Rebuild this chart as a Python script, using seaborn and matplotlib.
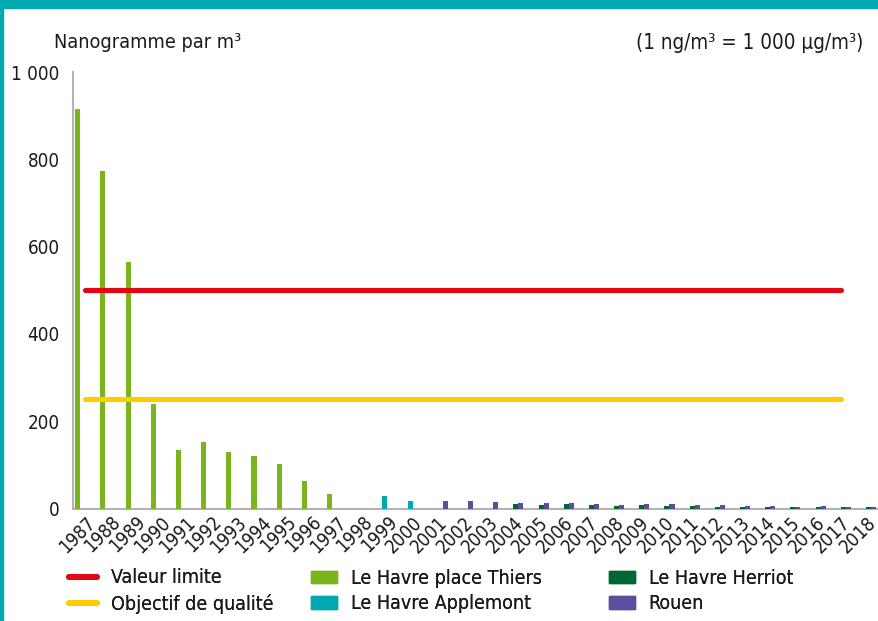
import numpy as np
import pandas as pd
import matplotlib
matplotlib.use("Agg")
import matplotlib.pyplot as plt
import seaborn as sns
from matplotlib.lines import Line2D
from matplotlib.patches import Patch, Rectangle

sns.set_style("white")
plt.rcParams['font.family'] = ['DejaVu Sans']
plt.rcParams['font.stretch'] = 'condensed'

years = [str(y) for y in range(1987, 2019)]
nan = np.nan
thiers = [915, 773, 565, 240, 133, 153, 130, 121, 101, 64, 34] + [nan] * 21
applemont = [nan] * 12 + [28, 17] + [nan] * 18
herriot = [nan] * 17 + [10, 7, 10, 7, 6, 7, 6, 6, 3, 3, 3, 3, 3, 3, 3]
rouen = [nan] * 14 + [17, 17, 14, 12, 12, 12, 10, 7, 10, 10, 7, 7, 5, 5, 3, 5, 3, 3]
valeur_limite = [500] * 31      # 1987-2017
objectif_qualite = [250] * 31   # 1987-2017

series_names = ["Le Havre place Thiers", "Le Havre Applemont", "Le Havre Herriot", "Rouen"]
series_vals = [thiers, applemont, herriot, rouen]
colors = {"Le Havre place Thiers": "#7AB51D", "Le Havre Applemont": "#00A9B1",
          "Le Havre Herriot": "#006633", "Rouen": "#5B4E9C"}
red, yellow = "#E30613", "#FFCC00"

rows = []
for name, vals in zip(series_names, series_vals):
    for y, v in zip(years, vals):
        rows.append({"year": y, "series": name, "value": v})
df = pd.DataFrame(rows)

fig = plt.figure(figsize=(8.79, 6.21), dpi=100)
ax = fig.add_axes([72.7 / 879, 1 - 508.5 / 621, (878.5 - 72.7) / 879, (508.5 - 72) / 621])

sns.barplot(data=df, x="year", y="value", hue="series", order=years,
            hue_order=series_names, palette=colors, width=0.8, dodge=True,
            errorbar=None, ax=ax, legend=False, saturation=1, linewidth=0, zorder=3)

sns.lineplot(x=np.arange(len(valeur_limite)), y=valeur_limite, color=red,
             linewidth=3.7, ax=ax, solid_capstyle="round", zorder=4)
sns.lineplot(x=np.arange(len(objectif_qualite)), y=objectif_qualite, color=yellow,
             linewidth=3.7, ax=ax, solid_capstyle="round", zorder=4)

ax.set_xlim(-0.5, len(years) - 0.5)
ax.set_ylim(0, 1000)
ax.set_yticks([0, 200, 400, 600, 800, 1000])
ax.set_yticklabels(["0", "200", "400", "600", "800", "1 000"])
ax.set_xlabel("")
ax.set_ylabel("")

gray = "#B3B3B3"
for s in ["top", "right"]:
    ax.spines[s].set_visible(False)
for s in ["left", "bottom"]:
    ax.spines[s].set_color(gray)
    ax.spines[s].set_linewidth(1.5)
    ax.spines[s].set_zorder(2)

ax.tick_params(axis="y", direction="in", length=14.5, width=1.5, color=gray,
               labelsize=13.5, labelcolor="#1a1a1a", pad=9.5)
ax.tick_params(axis="x", which="major", length=0, labelsize=13.5, labelcolor="#1a1a1a", pad=3)
ax.set_xticks(np.arange(-0.5, len(years), 1), minor=True)
ax.tick_params(axis="x", which="minor", length=5, width=1.5, color=gray, direction="out")
for lab in ax.get_xticklabels():
    lab.set_rotation(45)
    lab.set_ha("right")
    lab.set_rotation_mode("anchor")

fig.text(54 / 879, 1 - 43 / 621, "Nanogramme par m³", fontsize=14.2, color="#1a1a1a",
         va="center", ha="left")
fig.text(863 / 879, 1 - 43 / 621, "(1 ng/m³ = 1 000 µg/m³)", fontsize=14.8, color="#1a1a1a",
         va="center", ha="right")

fs = 14
columns = [
    (69, [Line2D([], [], color=red, linewidth=4.2, solid_capstyle="round"),
          Line2D([], [], color=yellow, linewidth=4.2, solid_capstyle="round")],
     ["Valeur limite", "Objectif de qualité"], 1.45),
    (311, [Patch(color=colors["Le Havre place Thiers"]), Patch(color=colors["Le Havre Applemont"])],
     ["Le Havre place Thiers", "Le Havre Applemont"], 1.32),
    (609, [Patch(color=colors["Le Havre Herriot"]), Patch(color=colors["Rouen"])],
     ["Le Havre Herriot", "Rouen"], 1.32),
]
for x0, hs, ls, hl in columns:
    leg = fig.legend(hs, ls, loc="center left", bbox_to_anchor=(x0 / 879, 1 - 591 / 621),
                     frameon=False, fontsize=fs, handlelength=hl, handleheight=0.62,
                     labelspacing=0.33, handletextpad=0.72, borderpad=0, borderaxespad=0)
    for t in leg.get_texts():
        t.set_color("#1a1a1a")
    fig.add_artist(leg)

teal = "#00A9B1"
fig.patches.append(Rectangle((0, 1 - 8 / 621), 1, 8 / 621, transform=fig.transFigure,
                             color=teal, zorder=10))
fig.patches.append(Rectangle((0, 0), 3.5 / 879, 1, transform=fig.transFigure,
                             color=teal, zorder=10))

fig.savefig("out.png", dpi=100)
